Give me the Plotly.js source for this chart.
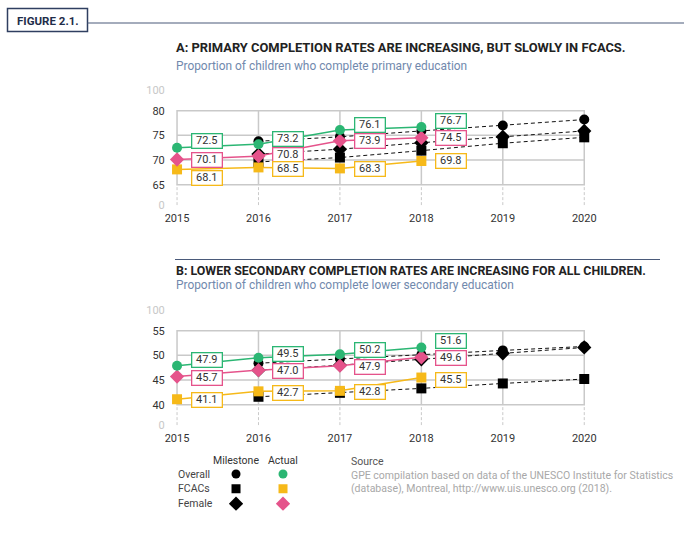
<!DOCTYPE html>
<html><head><meta charset="utf-8">
<script src="https://cdn.plot.ly/plotly-3.0.1.min.js"></script>
<style>html,body{margin:0;padding:0;background:#fff}#chart{width:684px;height:535px}</style>
</head><body><div id="chart"></div>
<script>
// ---------- data ----------
const yearsActual = [2015, 2016, 2017, 2018];
const yearsMilestone = [2016, 2017, 2018, 2019, 2020];
const yearsAll = [2015, 2016, 2017, 2018, 2019, 2020];

// Panel A: primary completion
const primOverallActual = [72.5, 73.2, 76.1, 76.7];
const primFemaleActual  = [70.1, 70.8, 73.9, 74.5];
const primFcacActual    = [68.1, 68.5, 68.3, 69.8];
const primOverallMilestone = [73.8, 74.7, 75.9, 77.0, 78.2];
const primFemaleMilestone  = [71.2, 72.2, 73.5, 74.7, 75.9];
const primFcacMilestone    = [69.6, 70.5, 71.9, 73.4, 74.6];

// Panel B: lower secondary completion
const secOverallActual = [47.9, 49.5, 50.2, 51.6];
const secFemaleActual  = [45.7, 47.0, 47.9, 49.6];
const secFcacActual    = [41.1, 42.7, 42.8, 45.5];
const secOverallMilestone = [48.4, 49.3, 50.1, 51.0, 51.8];
const secFemaleMilestone  = [47.0, 48.0, 49.2, 50.4, 51.6];
const secFcacMilestone    = [41.6, 42.4, 43.3, 44.3, 45.2];

const primTicks = [65, 70, 75, 80];
const secTicks = [40, 45, 50, 55];
const legendCols = ["Milestone", "Actual"];
const legendRows = ["Overall", "FCACs", "Female"];

// ---------- styles ----------
const GREEN = "#2bb673", PINK = "#e5538b", YELLOW = "#f6b919", BLACK = "#000";
const GRID = "#c9c9c9";
const FONT = "Roboto, 'DejaVu Sans', sans-serif";

const traces = [];
function milestone(x, y, sym, size, xa, ya) {
  traces.push({x, y, xaxis: xa, yaxis: ya, mode: "lines+markers", type: "scatter", cliponaxis: false,
    line: {color: "#111", width: 1, dash: "4px,3px"},
    marker: {symbol: sym, size: size, color: BLACK}, hoverinfo: "skip", showlegend: false});
}
function actual(x, y, sym, size, color, xa, ya) {
  traces.push({x, y, xaxis: xa, yaxis: ya, mode: "lines+markers", type: "scatter", cliponaxis: false,
    line: {color: color, width: 1.5},
    marker: {symbol: sym, size: size, color: color}, hoverinfo: "skip", showlegend: false});
}
// Panel A
milestone(yearsMilestone, primFcacMilestone, "square", 10, "x", "y");
milestone(yearsMilestone, primFemaleMilestone, "diamond", 11, "x", "y");
milestone(yearsMilestone, primOverallMilestone, "circle", 10, "x", "y");
actual(yearsActual, primFcacActual, "square", 10, YELLOW, "x", "y");
actual(yearsActual, primFemaleActual, "diamond", 11, PINK, "x", "y");
actual(yearsActual, primOverallActual, "circle", 10, GREEN, "x", "y");
// Panel B
milestone(yearsMilestone, secFcacMilestone, "square", 10, "x2", "y2");
milestone(yearsMilestone, secFemaleMilestone, "diamond", 11, "x2", "y2");
milestone(yearsMilestone, secOverallMilestone, "circle", 10, "x2", "y2");
actual(yearsActual, secFcacActual, "square", 10, YELLOW, "x2", "y2");
actual(yearsActual, secFemaleActual, "diamond", 11, PINK, "x2", "y2");
actual(yearsActual, secOverallActual, "circle", 10, GREEN, "x2", "y2");

// Legend markers (categorical axes)
const legSyms = ["circle", "square", "diamond"];
const legActualColors = [GREEN, YELLOW, PINK];
legendRows.forEach((r, i) => {
  traces.push({x: [legendCols[0]], y: [r], xaxis: "x3", yaxis: "y3", mode: "markers", type: "scatter",
    marker: {symbol: legSyms[i], size: i === 2 ? 11 : 9, color: BLACK}, hoverinfo: "skip", showlegend: false});
  traces.push({x: [legendCols[1]], y: [r], xaxis: "x3", yaxis: "y3", mode: "markers", type: "scatter",
    marker: {symbol: legSyms[i], size: i === 2 ? 11 : 9, color: legActualColors[i]}, hoverinfo: "skip", showlegend: false});
});

// ---------- frames / grids ----------
const shapes = [];
function frame(xa, ya, ticks, lowVal) {
  const lo = ticks[0], hi = ticks[ticks.length - 1];
  const x0 = yearsAll[0], x1 = yearsAll[yearsAll.length - 1];
  ticks.slice(1, -1).forEach(t => shapes.push({type: "line", xref: xa, yref: ya, x0, x1, y0: t, y1: t,
    line: {color: GRID, width: 1.5}, layer: "below"}));
  yearsAll.slice(1, -1).forEach(yr => shapes.push({type: "line", xref: xa, yref: ya, x0: yr, x1: yr, y0: lo, y1: hi,
    line: {color: GRID, width: 1.5}, layer: "below"}));
  yearsAll.forEach(yr => shapes.push({type: "line", xref: xa, yref: ya, x0: yr, x1: yr, y0: lowVal, y1: lo,
    line: {color: GRID, width: 1, dash: "3px,2px"}, layer: "below"}));
  shapes.push({type: "rect", xref: xa, yref: ya, x0, x1, y0: lo, y1: hi, line: {color: GRID, width: 1.5}, layer: "below"});
}
const primLow = 60.85, primHigh = 84.2, secLow = 35.85, secHigh = 59.2;
frame("x", "y", primTicks, primLow);
frame("x2", "y2", secTicks, secLow);

// header shapes
shapes.push({type: "rect", xref: "paper", yref: "paper", x0: 7.5/684, x1: 87.5/684, y0: (535-31.5)/535, y1: (535-8.5)/535,
  line: {color: "#2f3f60", width: 1.5}});
shapes.push({type: "line", xref: "paper", yref: "paper", x0: 87.5/684, x1: 1, y0: (535-23)/535, y1: (535-23)/535,
  line: {color: "#4a5a7a", width: 1.2}});
shapes.push({type: "line", xref: "paper", yref: "paper", x0: 175/684, x1: 660/684, y0: (535-259.5)/535, y1: (535-259.5)/535,
  line: {color: "#4a5a7a", width: 1.2}});

// ---------- annotations ----------
const annotations = [];
const labelShiftA = {overall: [7, 5, 5, 6], female: [0, 1, 0, 0], fcac: [-9, -2, -1, 0]};
const labelShiftB = {overall: [6, 4, 4, 6], female: [-1, -1, -1, -1], fcac: [-1, -2, -1, -2]};
function labels(vals, color, shifts, xa, ya) {
  vals.forEach((v, i) => annotations.push({x: yearsActual[i], y: v, xref: xa, yref: ya, text: v.toFixed(1),
    showarrow: false, xshift: 30, yshift: shifts[i], bgcolor: "#fff", bordercolor: color, borderwidth: 1.3,
    borderpad: 1, width: 27, height: 11, font: {family: FONT, size: 11, color: "#333"}}));
}
labels(primOverallActual, GREEN, labelShiftA.overall, "x", "y");
labels(primFemaleActual, PINK, labelShiftA.female, "x", "y");
labels(primFcacActual, YELLOW, labelShiftA.fcac, "x", "y");
labels(secOverallActual, GREEN, labelShiftB.overall, "x2", "y2");
labels(secFemaleActual, PINK, labelShiftB.female, "x2", "y2");
labels(secFcacActual, YELLOW, labelShiftB.fcac, "x2", "y2");

function ptext(text, xpx, ypx, opts) {
  annotations.push(Object.assign({xref: "paper", yref: "paper", x: xpx/684, y: (535-ypx)/535, text, showarrow: false,
    xanchor: "left", yanchor: "middle", font: {family: FONT, size: 11, color: "#333"}}, opts || {}));
}
ptext("<b>FIGURE 2.1.</b>", 47.5, 20.5, {xanchor: "center", font: {family: FONT, size: 11.5, color: "#1f2d4a"}});
ptext("<b>A: PRIMARY COMPLETION RATES ARE INCREASING, BUT SLOWLY IN FCACS.</b>", 174, 48, {font: {family: FONT, size: 12.9, color: "#222"}});
ptext("Proportion of children who complete primary education", 174, 66, {font: {family: FONT, size: 11.9, color: "#7189ad"}});
ptext("<b>B: LOWER SECONDARY COMPLETION RATES ARE INCREASING FOR ALL CHILDREN.</b>", 174, 270, {font: {family: FONT, size: 12.4, color: "#222"}});
ptext("Proportion of children who complete lower secondary education", 174, 285, {font: {family: FONT, size: 11.9, color: "#7189ad"}});
// legend texts
ptext(legendCols[0], 236, 460, {xanchor: "center", font: {family: FONT, size: 10.5, color: "#333"}});
ptext(legendCols[1], 283, 460, {xanchor: "center", font: {family: FONT, size: 10.5, color: "#333"}});
legendRows.forEach((r, i) => ptext(r, 176, 474 + i * 14.85, {font: {family: FONT, size: 10.5, color: "#444"}}));
ptext('<span style="color:#555">Source</span><br>GPE compilation based on data of the UNESCO Institute for Statistics<br>(database), Montreal, http://www.uis.unesco.org (2018).',
  349, 453, {yanchor: "top", align: "left", font: {family: FONT, size: 10.5, color: "#a8a8a8"}});

// ---------- axes ----------
const grey = s => '<span style="color:#c8c8c8">' + s + '</span>';
function yax(ticks, low, high, domain) {
  return {range: [low - 0.05, high + 0.4], domain, anchor: "free", position: 177/684,
    showgrid: false, zeroline: false, showline: false,
    tickmode: "array", tickvals: [low].concat(ticks, [high]), ticktext: [grey("0")].concat(ticks.map(String), [grey("100")]),
    ticks: "outside", ticklen: 10, tickcolor: "rgba(0,0,0,0)", tickfont: {family: FONT, size: 11, color: "#333"}, fixedrange: true};
}
function xax(anchor) {
  return {range: [2014.5, 2020.5], domain: [0.1993, 0.9137], anchor, showgrid: false, zeroline: false, showline: false,
    tickmode: "array", tickvals: yearsAll, ticktext: yearsAll.map(String), ticks: "outside", ticklen: 2,
    tickcolor: "rgba(0,0,0,0)", tickfont: {family: FONT, size: 11, color: "#333"}, fixedrange: true};
}
const layout = {
  width: 684, height: 535, margin: {l: 0, r: 0, t: 0, b: 0}, paper_bgcolor: "#fff", plot_bgcolor: "rgba(0,0,0,0)",
  showlegend: false, font: {family: FONT},
  xaxis: xax("y"), yaxis: yax(primTicks, primLow, primHigh, [0.6161, 0.8355]),
  xaxis2: xax("y2"), yaxis2: yax(secTicks, secLow, secHigh, [0.2049, 0.4243]),
  xaxis3: {type: "category", categoryarray: legendCols, range: [-0.5, 1.5], domain: [0.3107, 0.4481], anchor: "y3",
    visible: false, fixedrange: true},
  yaxis3: {type: "category", categoryarray: legendRows, range: [2.5, -0.5], domain: [0.0447, 0.1279], anchor: "x3",
    visible: false, fixedrange: true},
  shapes, annotations
};
Plotly.newPlot("chart", traces, layout, {staticPlot: true, displayModeBar: false});
</script></body></html>
